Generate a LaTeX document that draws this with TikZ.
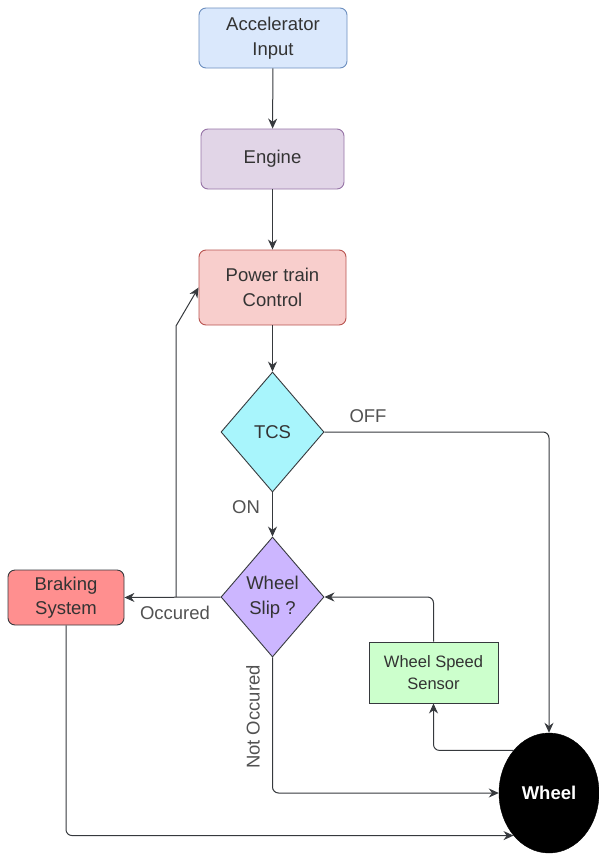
\documentclass[tikz,border=0pt]{standalone}
\usepackage{fontspec}
\setmainfont{Liberation Sans}
\usetikzlibrary{shapes.geometric,arrows.meta}
\definecolor{txt}{HTML}{333333}
\definecolor{ln}{HTML}{36393D}
\begin{document}
\begin{tikzpicture}[x=1pt,y=-1pt,
  base/.style={text=txt,font=\fontsize{18.5}{24.5}\selectfont,align=center,inner sep=0pt},
  rbox/.style={base,draw,rounded corners=7pt,line width=0.9pt},
  dia/.style={base,diamond,draw=ln,line width=0.9pt},
  conn/.style={draw=ln,line width=1pt,rounded corners=6pt,-{Stealth[length=10pt,width=9pt]}},
  lbl/.style={base,text=txt!85}
]
\useasboundingbox (0,0) rectangle (599,854);
\node[rbox,fill={rgb,255:red,218;green,232;blue,252},draw={rgb,255:red,108;green,142;blue,191},minimum width=148pt,minimum height=60pt] (acc) at (273,38) {Accelerator\\Input};
\node[rbox,fill={rgb,255:red,225;green,213;blue,231},draw={rgb,255:red,150;green,115;blue,166},minimum width=143pt,minimum height=60pt] (eng) at (272.5,159) {Engine};
\node[rbox,fill={rgb,255:red,248;green,206;blue,204},draw={rgb,255:red,184;green,84;blue,80},minimum width=147pt,minimum height=75pt] (ptc) at (272.5,287.5) {Power train\\Control};
\node[dia,fill={rgb,255:red,168;green,245;blue,252},minimum width=103pt,minimum height=120pt] (tcs) at (272.5,432) {TCS};
\node[dia,fill={rgb,255:red,204;green,182;blue,255},minimum width=103pt,minimum height=120pt] (slip) at (272.5,597) {Wheel\\Slip ?};
\node[rbox,draw=ln,fill={rgb,255:red,255;green,143;blue,143},minimum width=116pt,minimum height=55pt] (brake) at (66,597.5) {Braking\\System};
\node[base,draw=ln,line width=0.9pt,fill={rgb,255:red,204;green,255;blue,204},minimum width=129pt,minimum height=61pt,font=\fontsize{16.5}{22.5}\selectfont] (sensor) at (433.5,672.5) {Wheel Speed\\Sensor};
\node[ellipse,fill=black,draw=black,minimum width=100pt,minimum height=120pt,inner sep=0pt,text=white,font=\fontsize{18.5}{22}\selectfont\bfseries] (wheel) at (549,793) {Wheel};

\coordinate (j) at (176,597);
\coordinate (jt) at (176,326);

\draw[conn] (acc) -- (eng);
\draw[conn] (eng) -- (ptc);
\draw[conn] (ptc) -- (tcs);
\draw[conn] (tcs.east) -| (wheel.north);
\draw[conn] (tcs) -- (slip);
\draw[conn] (slip.west) -- (brake.east);
\draw[conn,rounded corners=0pt] (j) -- (jt) -- (ptc.west);
\draw[conn] (slip.south) |- (wheel.west);
\draw[conn] (brake.south) |- (wheel.south west);
\draw[conn] (wheel.north west) -| (sensor.south);
\draw[conn] (sensor.north) |- (slip.east);

\node[lbl] (off) at (368,416) {OFF};
\node[lbl] (on) at (246,507) {ON};
\node[lbl] (occ) at (175,613) {Occured};
\node[lbl,rotate=90] (nocc) at (253,717) {Not Occured};
\end{tikzpicture}
\end{document}
